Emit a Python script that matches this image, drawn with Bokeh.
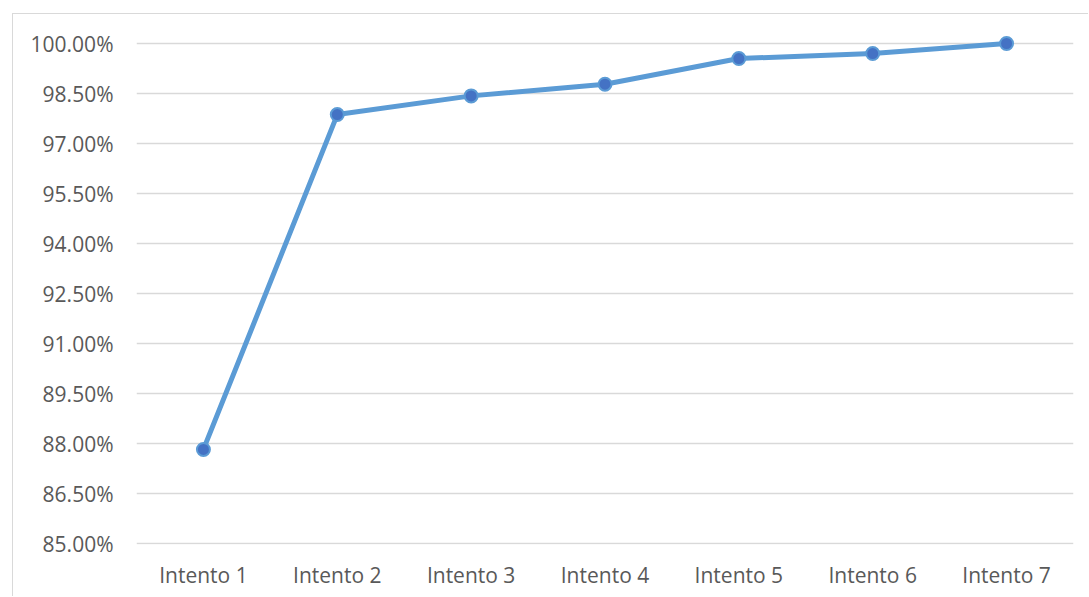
from bokeh.plotting import figure
from bokeh.models import FactorRange, Range1d, FixedTicker, ColumnDataSource
from bokeh.embed import file_html
from bokeh.resources import INLINE

categories = ["Intento 1", "Intento 2", "Intento 3", "Intento 4", "Intento 5", "Intento 6", "Intento 7"]
values = [87.83, 97.87, 98.43, 98.78, 99.55, 99.70, 100.00]
y_ticks = [85.0, 86.5, 88.0, 89.5, 91.0, 92.5, 94.0, 95.5, 97.0, 98.5, 100.0]
y_tick_labels = ["85.00%", "86.50%", "88.00%", "89.50%", "91.00%", "92.50%",
                 "94.00%", "95.50%", "97.00%", "98.50%", "100.00%"]

src = ColumnDataSource(dict(x=categories, y=values))

p = figure(width=1076, height=583, x_range=FactorRange(*categories, range_padding=0),
           y_range=Range1d(84.98, 100.6), output_backend="svg", toolbar_location=None,
           min_border_left=123, min_border_right=16, min_border_top=9, min_border_bottom=53,
           margin=(13, 0, 0, 12),
           styles={"border-left": "1px solid #d9d9d9", "border-top": "1px solid #d9d9d9"})

p.outline_line_color = None
p.background_fill_color = "white"
p.border_fill_color = "white"

p.xgrid.grid_line_color = None
p.ygrid.grid_line_color = "#d9d9d9"
p.ygrid.grid_line_width = 1.5
p.yaxis.ticker = FixedTicker(ticks=y_ticks)
p.yaxis.major_label_overrides = {t: l for t, l in zip(y_ticks, y_tick_labels)}

for ax in (p.xaxis[0], p.yaxis[0]):
    ax.axis_line_color = None
    ax.major_tick_line_color = None
    ax.minor_tick_line_color = None
    ax.major_tick_out = 0
    ax.major_tick_in = 0
    ax.major_label_text_font = "Open Sans"
    ax.major_label_text_font_size = "21px"
    ax.major_label_text_color = "#595959"
p.yaxis.major_label_standoff = 23
p.xaxis.major_label_standoff = 16

p.line("x", "y", source=src, line_color="#5B9BD5", line_width=5)
p.scatter("x", "y", source=src, size=13, fill_color="#4472C4", line_color="#5B9BD5", line_width=2)

open("out.html", "w").write(file_html(p, INLINE))
